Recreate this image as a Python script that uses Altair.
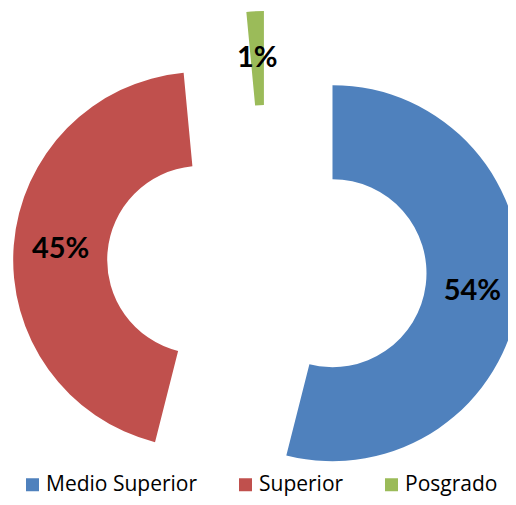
import altair as alt
import pandas as pd

categories = ["Medio Superior", "Superior", "Posgrado"]
values = [53.95, 44.56, 1.49]
colors = ["#4F81BD", "#C0504D", "#9BBB59"]

df = pd.DataFrame({"categoria": categories, "valor": values,
                   "orden": list(range(len(categories)))})

CX, CY = 259, 257          # centre of the un-exploded ring (view px)
EXPLODE = 66               # explosion distance
R_OUT, R_IN = 188, 94
R_LAB = (R_OUT + R_IN) / 2

base = (
    alt.Chart(df)
    .transform_joinaggregate(total="sum(valor)")
    .transform_window(cum="sum(valor)", sort=[alt.SortField("orden")], frame=[None, 0])
    .transform_calculate(
        a0="2*PI*(datum.cum - datum.valor)/datum.total",
        a1="2*PI*datum.cum/datum.total",
        pct="datum.valor/datum.total",
    )
    .transform_calculate(mid="(datum.a0 + datum.a1)/2")
    .transform_calculate(
        cx=f"{CX} + {EXPLODE}*sin(datum.mid)",
        cy=f"{CY} - {EXPLODE}*cos(datum.mid)",
    )
    .transform_calculate(
        lx=f"datum.cx + {R_LAB}*sin(datum.mid)",
        ly=f"datum.cy - {R_LAB}*cos(datum.mid)",
    )
)

arcs = base.mark_arc(innerRadius=R_IN, outerRadius=R_OUT).encode(
    theta=alt.Theta("a0:Q", scale=None, stack=None),
    theta2="a1:Q",
    x=alt.X("cx:Q", scale=None, axis=None),
    y=alt.Y("cy:Q", scale=None, axis=None),
    color=alt.Color(
        "categoria:N",
        scale=alt.Scale(domain=categories, range=colors),
        legend=alt.Legend(
            title=None, orient="none", legendX=14, legendY=466,
            direction="horizontal", symbolType="square", symbolSize=169,
            symbolStrokeWidth=0, labelFont="Open Sans", labelFontSize=21,
            labelColor="black", columnPadding=37, labelOffset=3, padding=0,
        ),
    ),
)

labels = base.mark_text(font="Lato", fontSize=29, fontWeight="bold",
                        color="black", baseline="middle", align="center").encode(
    x=alt.X("lx:Q", scale=None, axis=None),
    y=alt.Y("ly:Q", scale=None, axis=None),
    text=alt.Text("pct:Q", format=".0%"),
)

chart = (
    alt.layer(arcs, labels)
    .properties(width=500, height=489, autosize="none", padding=0)
    .configure_view(stroke=None)
)

chart.save("out.html", embed_options={"renderer": "svg", "actions": False})
